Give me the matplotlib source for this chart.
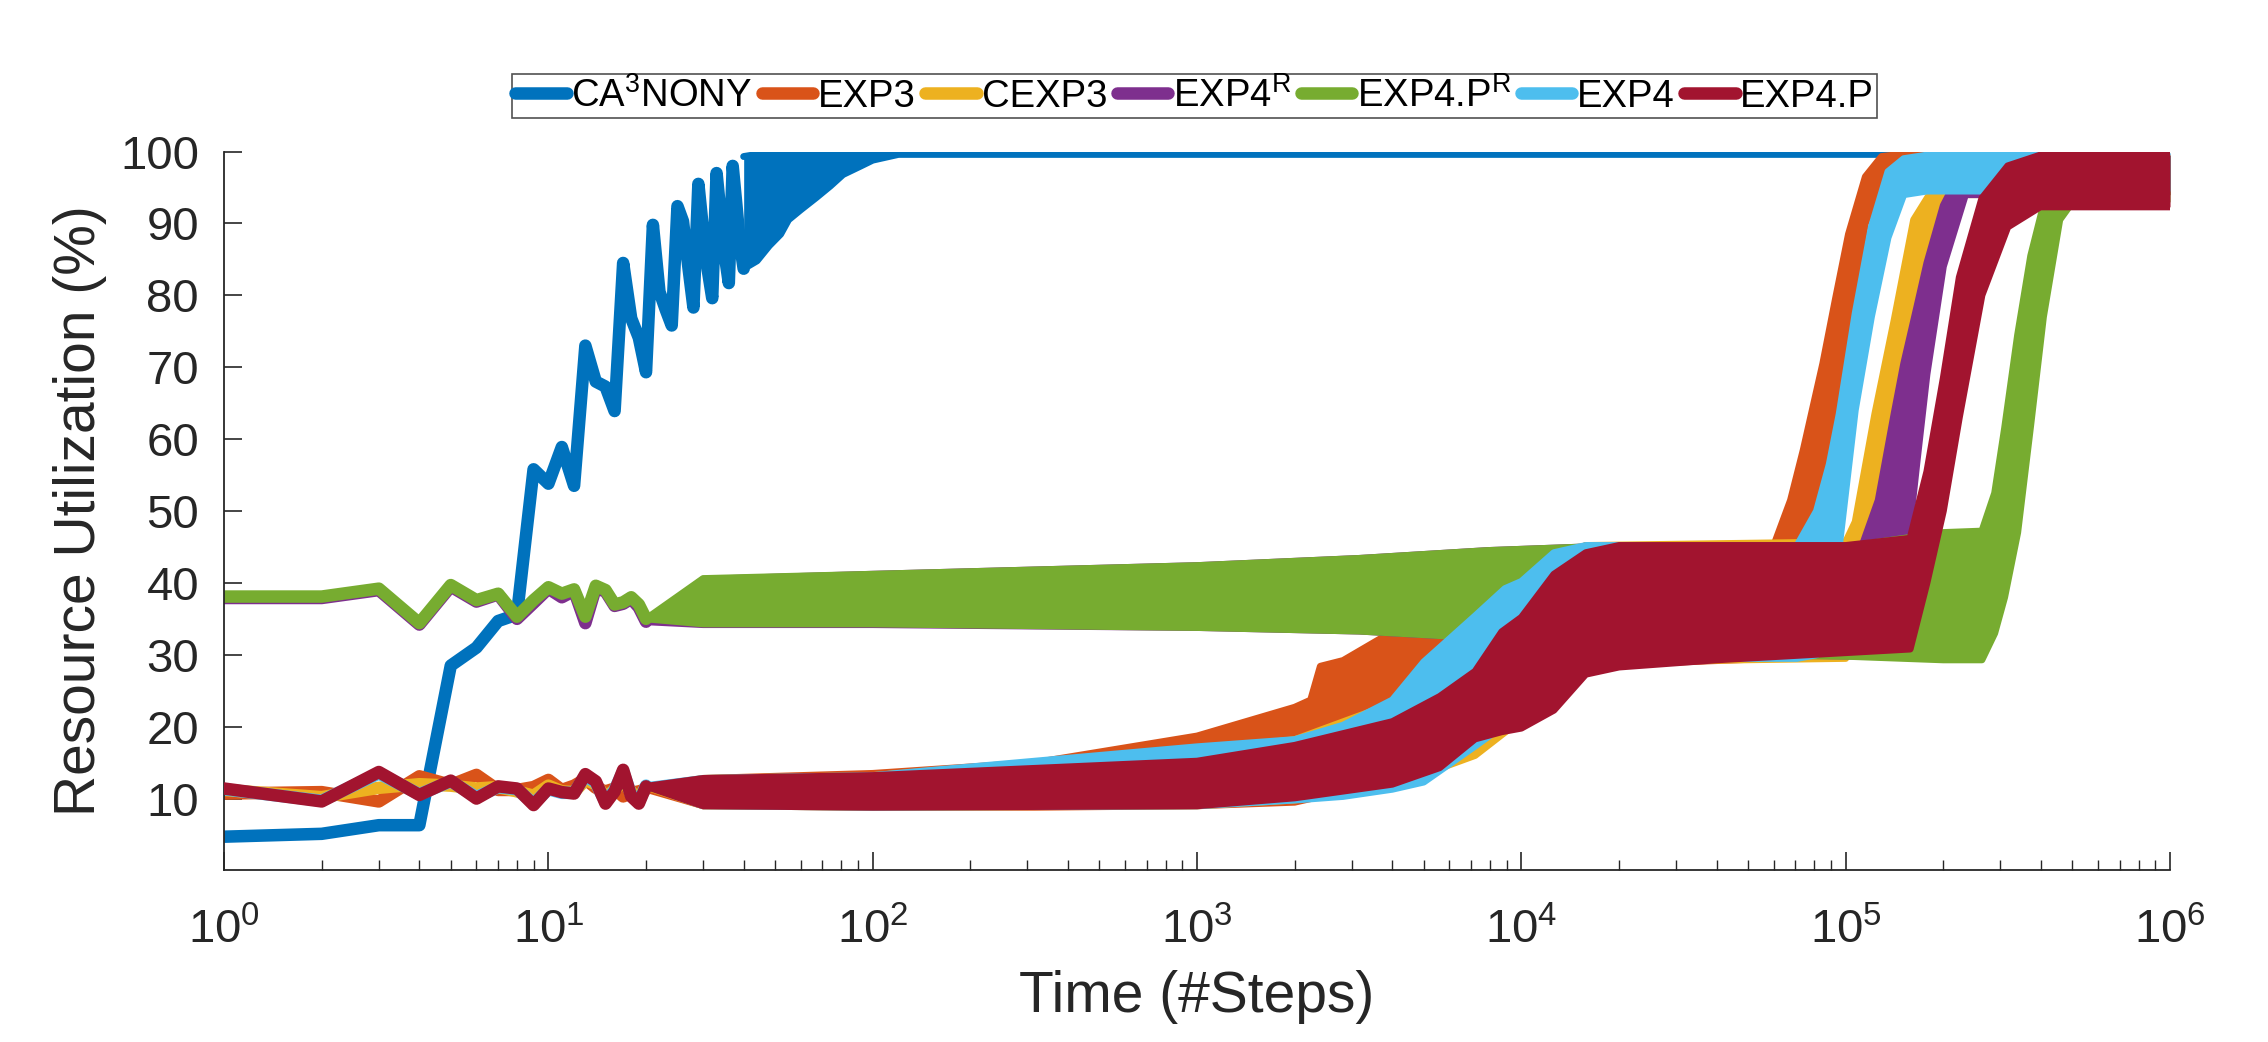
import numpy as np
import matplotlib.pyplot as plt
from matplotlib.ticker import LogLocator, NullFormatter

plt.rcParams['font.family'] = ['Liberation Sans', 'DejaVu Sans']
plt.rcParams['mathtext.fontset'] = 'custom'
plt.rcParams['mathtext.rm'] = 'Liberation Sans'
plt.rcParams['mathtext.it'] = 'Liberation Sans:italic'
plt.rcParams['mathtext.bf'] = 'Liberation Sans:bold'

# ─────────────────────────────────────────────
# series names / colours (MATLAB default order)
# ─────────────────────────────────────────────
labels = ['CA$^{3}$NONY', 'EXP3', 'CEXP3', 'EXP4$^{\\mathrm{R}}$',
          'EXP4.P$^{\\mathrm{R}}$', 'EXP4', 'EXP4.P']
colors = ['#0072BD', '#D95319', '#EDB120', '#7E2F8E',
          '#77AC30', '#4DBEEE', '#A2142F']

# ─────────────────────────────────────────────
# first steps, one value per step
# ─────────────────────────────────────────────
ca3_steps = list(range(1, 41))
ca3_early = [4.7, 5.1, 6.3, 6.3, 28.5, 31.0, 34.7, 35.6, 55.8, 53.8,
             58.9, 53.5, 73.0, 68.0, 67.3, 63.9, 84.5, 76.8, 74.1, 69.3,
             89.8, 80.5, 78.0, 75.8, 92.4, 90.3, 84.0, 78.3, 95.5, 89.0,
             83.5, 79.6, 97.0, 91.0, 85.5, 81.7, 98.0, 92.5, 87.0, 83.7]

steps = list(range(1, 21))
exp3_early = [10.7, 10.9, 9.6, 13.1, 11.9, 13.3, 11.2, 11.2, 11.6, 12.6,
              11.2, 11.8, 12.7, 11.5, 11.0, 11.4, 10.3, 10.8, 11.0, 11.3]
cexp3_early = [11.2, 10.2, 11.5, 12.0, 11.8, 11.4, 11.6, 11.0, 10.4, 11.8,
               11.0, 10.9, 12.6, 12.0, 10.2, 11.2, 12.5, 10.9, 10.1, 11.6]
exp4r_early = [37.9, 37.9, 39.0, 34.2, 39.5, 37.4, 38.4, 35.0, 37.2, 39.2,
               38.0, 38.9, 34.4, 39.3, 38.8, 36.8, 37.1, 37.8, 36.6, 34.6]
exp4pr_early = [38.1, 38.1, 39.2, 34.4, 39.7, 37.6, 38.5, 35.3, 37.6, 39.4,
                38.5, 39.1, 35.3, 39.6, 39.0, 37.0, 37.3, 38.0, 37.0, 35.0]
exp4_early = [11.3, 9.7, 13.5, 10.6, 12.4, 10.2, 11.6, 11.3, 9.3, 11.3,
              10.8, 10.8, 13.2, 12.2, 9.5, 11.2, 13.8, 10.5, 9.5, 11.8]
exp4p_early = [11.4, 9.6, 13.7, 10.5, 12.5, 10.0, 11.7, 11.4, 9.1, 11.4,
               10.9, 10.7, 13.4, 12.4, 9.3, 11.0, 14.0, 10.3, 9.3, 11.7]

# ─────────────────────────────────────────────
# noisy part: lower / upper envelope of each band
# ─────────────────────────────────────────────
ca3_x = [40, 44, 48, 52, 55, 60, 67, 74, 81, 92, 100, 120, 1e6]
ca3_lo = [83.7, 84.8, 86.9, 88.5, 90.5, 91.9, 93.6, 95.2, 96.8, 98.0, 98.8, 99.6, 99.6]
ca3_hi = [99.3, 99.6, 99.8, 99.8, 99.8, 99.8, 99.8, 99.8, 99.8, 99.8, 99.8, 99.8, 99.8]

exp3_x = [20, 30, 100, 316, 1000, 2000, 2240, 2400, 2820, 4000, 5600, 10000, 15800,
          60000, 67600, 74000, 85000, 93000, 102000, 115000, 129000, 141000, 1e6]
exp3_lo = [11.3, 9, 8.8, 8.8, 9, 9.5, 10, 10.5, 11, 11.5, 14, 22, 28.5,
           29.5, 36, 46, 56, 63, 76, 90, 95.5, 95.5, 95.5]
exp3_hi = [11.3, 12.8, 13.5, 15, 18.7, 22.7, 23.7, 28.4, 29.2, 33.2, 37.2, 41.2, 45.2,
           45.2, 51.5, 58.5, 70.5, 79.5, 88.5, 96.5, 99.3, 99.5, 99.5]

cexp3_x = [20, 30, 100, 1000, 2000, 4000, 7200, 10000, 15800, 100000, 107000,
           123000, 141000, 162000, 190000, 214000, 1e6]
cexp3_lo = [11.6, 9, 8.8, 9, 9.8, 11.8, 16, 21, 29, 29.5, 32, 50, 64, 77, 90.5, 94, 94]
cexp3_hi = [11.6, 12.8, 13.2, 16.7, 18.2, 23.2, 34.2, 39.2, 45.2, 45.7, 48.5, 63.5,
            76.5, 90.5, 95.5, 98.5, 99.5]

exp4r_x = [20, 30, 100, 1000, 3160, 7900, 15800, 112000, 126000, 141000, 151000,
           166000, 178000, 200000, 234000, 1e6]
exp4r_lo = [34.6, 34.2, 34.2, 33.8, 33.3, 32.3, 30.3, 29.8, 29.8, 30, 40, 57, 69, 84, 94, 94]
exp4r_hi = [34.6, 40.5, 41.2, 42.4, 43.4, 44.5, 45, 45, 51.5, 63.5, 70.5, 78.5, 84.5,
            92.5, 98.5, 99.5]

exp4pr_x = [20, 30, 100, 1000, 3160, 7900, 15800, 100000, 200000, 263000, 288000,
            309000, 339000, 372000, 407000, 457000, 501000, 1e6]
exp4pr_lo = [35.0, 34.3, 34.3, 33.8, 33.3, 32.3, 30.3, 29.8, 29.3, 29.3, 33, 38, 47,
             62, 77, 90.5, 93, 93]
exp4pr_hi = [35.0, 40.6, 41.2, 42.4, 43.4, 44.5, 45, 45, 47, 47.2, 52.5, 61.5, 74.5,
             85.5, 92.5, 96.5, 99, 99.5]

exp4_x = [20, 30, 100, 1000, 2000, 2820, 4000, 5000, 7200, 8900, 10000, 12600, 15800,
          70800, 81300, 89000, 95500, 107000, 120000, 135000, 151000, 178000, 1e6]
exp4_lo = [11.8, 9, 8.8, 9, 9.8, 10.3, 11.3, 12.3, 17.3, 20.3, 22.3, 27, 29.5,
           29.5, 30, 36, 45, 64, 77, 88, 94, 94.5, 94.5]
exp4_hi = [11.8, 12.8, 13.2, 17.2, 18.2, 20.2, 23.7, 29, 35.4, 39.2, 40.2, 44.2, 45.2,
           45.2, 50, 56.5, 63.5, 77.5, 89.5, 97.2, 99, 99.5, 99.5]

exp4p_x = [20, 30, 100, 1000, 2000, 4000, 5600, 7200, 8700, 10000, 12600, 15800, 20000,
           40000, 100000, 158000, 178000, 200000, 224000, 263000, 316000, 398000, 1e6]
exp4p_lo = [11.7, 9, 8.8, 9, 10.1, 12, 14.3, 18.3, 19.3, 19.8, 22.3, 27.3, 28.3,
            29.3, 30.3, 30.8, 40, 50, 63, 80, 89.5, 92.3, 92.3]
exp4p_hi = [11.7, 12.8, 13.2, 15.2, 17.4, 20.7, 24.2, 27.7, 33.2, 35.2, 41.2, 44.2, 45.2,
            45.2, 45.2, 46.2, 55.5, 68.5, 82.5, 93.5, 98, 99.5, 99.5]

early_x = [ca3_steps, steps, steps, steps, steps, steps, steps]
early_y = [ca3_early, exp3_early, cexp3_early, exp4r_early,
           exp4pr_early, exp4_early, exp4p_early]
band_x = [ca3_x, exp3_x, cexp3_x, exp4r_x, exp4pr_x, exp4_x, exp4p_x]
band_lo = [ca3_lo, exp3_lo, cexp3_lo, exp4r_lo, exp4pr_lo, exp4_lo, exp4p_lo]
band_hi = [ca3_hi, exp3_hi, cexp3_hi, exp4r_hi, exp4pr_hi, exp4_hi, exp4p_hi]

yticks = [10, 20, 30, 40, 50, 60, 70, 80, 90, 100]

LW = 9
EDGE_LW = 5
AXC = '#262626'

fig = plt.figure(figsize=(22.68, 10.42), dpi=100)
ax = fig.add_axes([0.0988, 0.1646, 0.8580, 0.6900])

handles = []
for i in range(len(labels)):
    z = 2 + i * 0.1
    h, = ax.plot(early_x[i], early_y[i], color=colors[i], lw=LW,
                 solid_joinstyle='round', solid_capstyle='round',
                 label=labels[i], zorder=z)
    handles.append(h)
    ax.fill_between(band_x[i], band_lo[i], band_hi[i], color=colors[i],
                    lw=0, zorder=z)
    for edge in (band_lo[i], band_hi[i]):
        ax.plot(band_x[i], edge, color=colors[i], lw=EDGE_LW,
                solid_joinstyle='round', solid_capstyle='round', zorder=z)

ax.set_xscale('log')
ax.set_xlim(1, 1e6)
ax.set_ylim(0, 100)
ax.set_yticks(yticks)
ax.xaxis.set_major_locator(LogLocator(base=10, numticks=20))
ax.xaxis.set_minor_locator(LogLocator(base=10, subs=np.arange(2, 10), numticks=100))
ax.xaxis.set_minor_formatter(NullFormatter())

for s in ('top', 'right'):
    ax.spines[s].set_visible(False)
for s in ('left', 'bottom'):
    ax.spines[s].set_color(AXC)
    ax.spines[s].set_linewidth(1.3)

ax.tick_params(which='major', direction='in', length=13, width=1.2, color=AXC,
               labelsize=34, labelcolor=AXC)
ax.tick_params(which='minor', direction='in', length=7, width=1.0, color=AXC)
ax.tick_params(axis='x', which='major', pad=27)
ax.tick_params(axis='y', which='major', pad=18)

ax.set_xlabel('Time (#Steps)', fontsize=41, color=AXC)
ax.set_ylabel('Resource Utilization (%)', fontsize=41, color=AXC)
ax.xaxis.set_label_coords(0.5, -0.138)
ax.yaxis.set_label_coords(-0.060, 0.5)

leg = fig.legend(handles=handles, labels=labels, loc='center',
                 bbox_to_anchor=(0.5267, 0.908), ncol=7, fontsize=27.5,
                 handlelength=1.35, handletextpad=0.12, columnspacing=0.25,
                 borderpad=0.08, borderaxespad=0, fancybox=False,
                 frameon=True, edgecolor=AXC)
leg.get_frame().set_linewidth(1.2)

fig.savefig('out.png', dpi=100)
